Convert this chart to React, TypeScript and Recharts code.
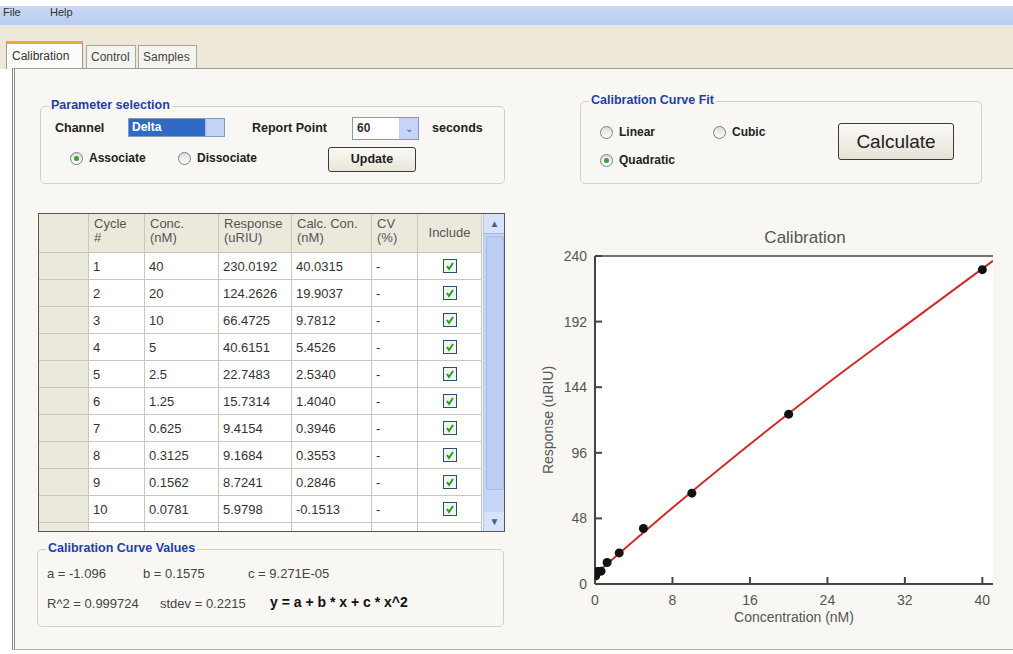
import React from 'react';
import { ComposedChart, Line, Scatter, XAxis, YAxis, ReferenceLine } from 'recharts';

const cycles = [1, 2, 3, 4, 5, 6, 7, 8, 9, 10];
const concentrations = [40, 20, 10, 5, 2.5, 1.25, 0.625, 0.3125, 0.1562, 0.0781];
const responses = [230.0192, 124.2626, 66.4725, 40.6151, 22.7483, 15.7314, 9.4154, 9.1684, 8.7241, 5.9798];
const calcConcs = [40.0315, 19.9037, 9.7812, 5.4526, 2.534, 1.404, 0.3946, 0.3553, 0.2846, -0.1513];

// fitted curve
const fitConc = [0, 6.7, 14.9, 23.5, 32.6, 41.1];
const fitResponse = [7, 48, 96, 144, 192, 236.5];

const xTicks = [0, 8, 16, 24, 32, 40];
const yTicks = [0, 48, 96, 144, 192, 240];

const headers = [['Cycle', '#'], ['Conc.', '(nM)'], ['Response', '(uRIU)'], ['Calc. Con.', '(nM)'], ['CV', '(%)'], ['Include', '']];
const colWidths = [50, 56, 74, 73, 80, 46, 64];

const points = concentrations.map((c, i) => ({ conc: c, response: responses[i] }));
const fitLine = fitConc.map((c, i) => ({ conc: c, response: fitResponse[i] }));
// anchors for the inward tick marks, placed through the chart's own scales
const yTickMarks = yTicks.map((t) => ({ conc: 0, response: t }));
const xTickMarks = xTicks.map((t) => ({ conc: t, response: 0 }));

const uiFont = '"Liberation Sans", Arial, sans-serif';
const narrow = '"Liberation Sans Narrow", "Liberation Sans", Arial, sans-serif';
const blue = '#1f3fa6';
const axisColor = '#444';

const abs = (left: number, top: number, extra: React.CSSProperties = {}): React.CSSProperties => ({
  position: 'absolute', left, top, ...extra,
});

const YTick = (props: any) => {
  const { x, y, payload } = props;
  return (
    <text x={x} y={y} textAnchor="end" dominantBaseline="central" fill="#555" fontSize={14} fontFamily={narrow}>{payload.value}</text>
  );
};

const XTick = (props: any) => {
  const { x, y, payload } = props;
  return (
    <text x={x} y={y + 8} textAnchor="middle" dominantBaseline="central" fill="#555" fontSize={14} fontFamily={narrow}>{payload.value}</text>
  );
};

const YLabel = (props: any) => {
  const vb = props.viewBox;
  const cx = vb.x + 28;
  const cy = vb.y + vb.height / 2;
  return (
    <text x={cx} y={cy} transform={`rotate(-90 ${cx} ${cy})`} textAnchor="middle" dominantBaseline="central" fill="#555" fontSize={14} fontFamily={narrow}>
      Response (uRIU)
    </text>
  );
};

const XLabel = (props: any) => {
  const vb = props.viewBox;
  const cx = vb.x + vb.width / 2;
  const cy = vb.y + 33;
  return (
    <text x={cx} y={cy} textAnchor="middle" dominantBaseline="central" fill="#555" fontSize={14} fontFamily={narrow}>
      Concentration (nM)
    </text>
  );
};

const Radio = ({ left, top, checked, label }: { left: number; top: number; checked: boolean; label: string }) => (
  <div style={abs(left, top, { display: 'flex', alignItems: 'center' })}>
    <div style={{ width: 11, height: 11, borderRadius: '50%', border: '1px solid #6f7f90', background: 'linear-gradient(#dcdcd6,#ffffff)', display: 'flex', alignItems: 'center', justifyContent: 'center' }}>
      {checked && <div style={{ width: 5, height: 5, borderRadius: '50%', background: '#3c9e3c' }} />}
    </div>
    <span style={{ marginLeft: 6, fontWeight: 'bold', fontSize: 12, color: '#222' }}>{label}</span>
  </div>
);

const GroupBox = ({ left, top, width, height, title }: { left: number; top: number; width: number; height: number; title: string }) => (
  <div style={abs(left, top, { width, height, border: '1px solid #d2d1c6', borderRadius: 5, boxSizing: 'border-box' })}>
    <span style={{ position: 'absolute', left: 8, top: -9, padding: '0 2px', background: '#f8f7f3', color: blue, fontWeight: 'bold', fontSize: 12.5 }}>{title}</span>
  </div>
);

const CheckBox = () => (
  <div style={{ width: 12, height: 12, border: '1px solid #2a4f72', background: '#f3f3ee', display: 'flex', alignItems: 'center', justifyContent: 'center' }}>
    <svg width={10} height={10}>
      <polyline points="2,5 4,8 8,2" fill="none" stroke="#21a121" strokeWidth={2} />
    </svg>
  </div>
);

const DataTable = () => {
  const rowH = 27;
  const headerH = 39;
  const cellBase: React.CSSProperties = { boxSizing: 'border-box', borderRight: '1px solid #c9c8be', borderBottom: '1px solid #c9c8be', fontFamily: narrow, fontSize: 13, color: '#333' };
  return (
    <div style={abs(38, 213, { width: 467, height: 319, border: '1px solid #555', boxSizing: 'border-box', background: '#f4f3ee', overflow: 'hidden' })}>
      <div style={{ display: 'flex' }}>
        <div style={{ ...cellBase, width: colWidths[0], height: headerH, background: '#ebe9dc' }} />
        {headers.map((h, i) => (
          <div key={i} style={{ ...cellBase, width: colWidths[i + 1], height: headerH, background: '#ebe9dc', color: '#555', padding: '3px 5px', lineHeight: '14px', display: 'flex', flexDirection: 'column', justifyContent: i === 5 ? 'center' : 'flex-start', alignItems: i === 5 ? 'center' : 'flex-start' }}>
            <span>{h[0]}</span>
            {h[1] && <span>{h[1]}</span>}
          </div>
        ))}
      </div>
      {cycles.concat([0]).map((cy, r) => {
        const filler = r === cycles.length;
        const vals = filler ? ['', '', '', '', '', ''] : [String(cy), String(concentrations[r]), responses[r].toFixed(4), calcConcs[r].toFixed(4), '-', ''];
        return (
          <div key={r} style={{ display: 'flex' }}>
            <div style={{ ...cellBase, width: colWidths[0], height: rowH, background: '#ebe9dc' }} />
            {vals.map((v, i) => (
              <div key={i} style={{ ...cellBase, width: colWidths[i + 1], height: rowH, background: '#fff', padding: '0 4px', display: 'flex', alignItems: 'center', justifyContent: i === 5 ? 'center' : 'flex-start' }}>
                {i === 5 && !filler ? <CheckBox /> : v}
              </div>
            ))}
          </div>
        );
      })}
      <div style={abs(444, 0, { width: 21, height: 317, background: '#c6d5f6', borderLeft: '1px solid #b8c8ea' })}>
        <div style={{ height: 19, background: '#d7e2fb', borderBottom: '1px solid #9fb3e0', textAlign: 'center', fontSize: 10, color: '#4d6185', lineHeight: '19px' }}>▲</div>
        <div style={{ position: 'absolute', left: 2, top: 22, width: 16, height: 252, background: '#bccdf3', border: '1px solid #a9bce6', borderRadius: 2 }} />
        <div style={{ position: 'absolute', left: 0, bottom: 0, width: 21, height: 19, background: '#d7e2fb', textAlign: 'center', fontSize: 10, color: '#4d6185', lineHeight: '19px' }}>▼</div>
      </div>
    </div>
  );
};

const CalibrationChart = () => (
  <div style={abs(520, 220, { width: 493, height: 420 })}>
    {/* white plot background behind the svg */}
    <div style={abs(75, 36, { width: 398, height: 328, background: '#fff' })} />
    <div style={{ position: 'absolute', left: 0, top: 8, width: 570, textAlign: 'center', fontFamily: narrow, fontSize: 17, color: '#555' }}>Calibration</div>
    <div style={abs(0, 0)}>
      <ComposedChart width={493} height={420} margin={{ top: 36, right: 20, left: 0, bottom: 0 }}>
        <XAxis
          type="number"
          dataKey="conc"
          domain={[0, 41.1]}
          ticks={xTicks}
          height={56}
          tickLine={false}
          tickSize={0}
          tickMargin={8}
          tick={<XTick />}
          axisLine={{ stroke: axisColor, strokeWidth: 2 }}
          label={{ content: <XLabel /> }}
          allowDataOverflow
        />
        <YAxis
          type="number"
          dataKey="response"
          domain={[0, 240]}
          ticks={yTicks}
          width={75}
          tickLine={false}
          tickSize={0}
          tickMargin={8}
          tick={<YTick />}
          axisLine={{ stroke: axisColor, strokeWidth: 2 }}
          label={{ content: <YLabel /> }}
        />
        <ReferenceLine y={240} stroke={axisColor} strokeWidth={1.5} />
        <Scatter data={yTickMarks} dataKey="response" isAnimationActive={false}
          shape={(p: any) => <path d={`M${p.cx},${p.cy}h7`} stroke={axisColor} strokeWidth={2} fill="none" />} />
        <Scatter data={xTickMarks} dataKey="response" isAnimationActive={false}
          shape={(p: any) => <path d={`M${p.cx},${p.cy}v-7`} stroke={axisColor} strokeWidth={2} fill="none" />} />
        <Line data={fitLine} dataKey="response" type="monotone" stroke="#d42a2a" strokeWidth={2} dot={false} isAnimationActive={false} />
        <Scatter data={points} dataKey="response" fill="#111" isAnimationActive={false}
          shape={(p: any) => <circle cx={p.cx} cy={p.cy} r={4.5} fill="#111" />} />
      </ComposedChart>
    </div>
  </div>
);

export default function App() {
  return (
    <div style={{ position: 'fixed', left: 0, top: 0, width: 1013, height: 654, background: '#fff', fontFamily: uiFont, overflow: 'hidden' }}>
      {/* menu bar */}
      <div style={abs(0, 6, { width: 1013, height: 19, background: 'linear-gradient(#c9d9f5,#b9cdf1)' })}>
        <span style={abs(3, 0, { fontSize: 11, color: '#333' })}>File</span>
        <span style={abs(50, 0, { fontSize: 11, color: '#333' })}>Help</span>
      </div>
      <div style={abs(0, 25, { width: 1013, height: 44, background: '#ede8d7' })} />

      {/* tabs */}
      <div style={abs(6, 41, { width: 77, height: 28, background: '#fcfcfb', border: '1px solid #9c9b94', borderBottom: 'none', borderTop: '3px solid #f3a43a', boxSizing: 'border-box', fontSize: 12, color: '#333', fontFamily: narrow, padding: '5px 0 0 5px' })}>Calibration</div>
      <div style={abs(86, 45, { width: 50, height: 24, background: '#f5f4ef', border: '1px solid #a9a89f', borderBottom: 'none', boxSizing: 'border-box', fontSize: 12, color: '#444', fontFamily: narrow, padding: '4px 0 0 4px' })}>Control</div>
      <div style={abs(138, 45, { width: 59, height: 24, background: '#f5f4ef', border: '1px solid #a9a89f', borderBottom: 'none', boxSizing: 'border-box', fontSize: 12, color: '#444', fontFamily: narrow, padding: '4px 0 0 4px' })}>Samples</div>

      {/* tab page */}
      <div style={abs(12, 68, { width: 1001, height: 582, background: '#f8f7f3', borderTop: '1px solid #9c9b94', borderLeft: '3px double #8a8a86', borderBottom: '1px solid #b5b4ac', boxSizing: 'border-box' })} />

      {/* parameter selection */}
      <GroupBox left={40} top={106} width={465} height={78} title="Parameter selection" />
      <span style={abs(55, 121, { fontWeight: 'bold', fontSize: 12.5, color: '#222' })}>Channel</span>
      <div style={abs(128, 118, { width: 97, height: 19, border: '1px solid #7f9db9', boxSizing: 'border-box', display: 'flex', background: '#fff' })}>
        <div style={{ width: 73, background: '#316ac5', color: '#fff', fontWeight: 'bold', fontSize: 12, paddingLeft: 3, lineHeight: '17px' }}>Delta</div>
        <div style={{ flex: 1, background: '#c3d3f7', borderLeft: '1px solid #a6bbe8' }} />
      </div>
      <span style={abs(252, 121, { fontWeight: 'bold', fontSize: 12.5, color: '#222' })}>Report Point</span>
      <div style={abs(352, 117, { width: 67, height: 23, border: '1px solid #7f9db9', boxSizing: 'border-box', background: '#fff', display: 'flex' })}>
        <div style={{ flex: 1, fontSize: 12, fontWeight: 'bold', color: '#333', paddingLeft: 4, lineHeight: '21px' }}>60</div>
        <div style={{ width: 19, background: '#c6d5f7', color: '#4d6185', fontSize: 10, textAlign: 'center', lineHeight: '21px' }}>⌄</div>
      </div>
      <span style={abs(432, 121, { fontWeight: 'bold', fontSize: 12.5, color: '#222' })}>seconds</span>
      <Radio left={70} top={151} checked label="Associate" />
      <Radio left={178} top={151} checked={false} label="Dissociate" />
      <div style={abs(328, 147, { width: 88, height: 25, border: '1px solid #3a3a3a', borderRadius: 3, boxSizing: 'border-box', background: 'linear-gradient(#fbfaf5,#e8e5d8)', textAlign: 'center', fontWeight: 'bold', fontSize: 12.5, lineHeight: '23px', color: '#222' })}>Update</div>

      {/* curve fit */}
      <GroupBox left={580} top={101} width={402} height={83} title="Calibration Curve Fit" />
      <Radio left={600} top={125} checked={false} label="Linear" />
      <Radio left={713} top={125} checked={false} label="Cubic" />
      <Radio left={600} top={153} checked label="Quadratic" />
      <div style={abs(838, 123, { width: 116, height: 37, border: '1px solid #3a3a3a', borderRadius: 3, boxSizing: 'border-box', background: 'linear-gradient(#fbfaf5,#e6e3d6)', textAlign: 'center', fontSize: 19, lineHeight: '35px', color: '#222' })}>Calculate</div>

      <DataTable />

      {/* curve values */}
      <GroupBox left={37} top={549} width={467} height={78} title="Calibration Curve Values" />
      <span style={abs(47, 566, { fontFamily: narrow, fontSize: 13, color: '#444' })}>a = -1.096</span>
      <span style={abs(143, 566, { fontFamily: narrow, fontSize: 13, color: '#444' })}>b = 0.1575</span>
      <span style={abs(248, 566, { fontFamily: narrow, fontSize: 13, color: '#444' })}>c = 9.271E-05</span>
      <span style={abs(47, 596, { fontFamily: narrow, fontSize: 13, color: '#444' })}>R^2 = 0.999724</span>
      <span style={abs(160, 596, { fontFamily: narrow, fontSize: 13, color: '#444' })}>stdev = 0.2215</span>
      <span style={abs(270, 594, { fontWeight: 'bold', fontSize: 14, color: '#111' })}>y = a + b * x + c * x^2</span>

      <CalibrationChart />
    </div>
  );
}
